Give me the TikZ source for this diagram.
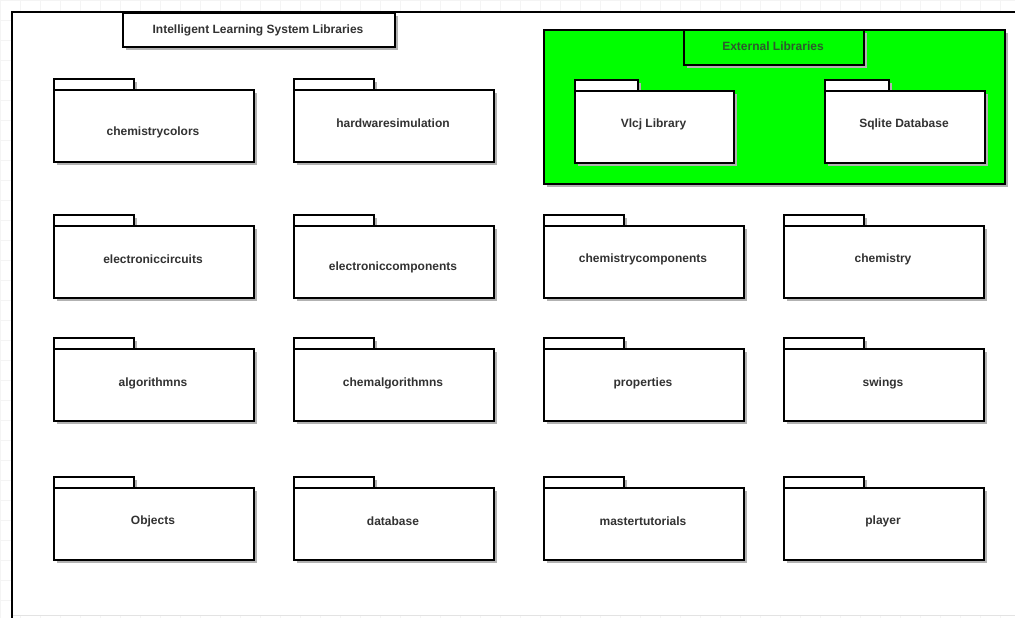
\documentclass[tikz,border=0pt]{standalone}
\usepackage{fontspec}
\setmainfont{Liberation Sans}
\usetikzlibrary{shadows}
\definecolor{extgreen}{RGB}{0,255,0}
\definecolor{txtgray}{RGB}{50,50,50}
\definecolor{exttxt}{RGB}{45,90,45}
\tikzset{
  shad/.style={drop shadow={shadow xshift=3.5pt, shadow yshift=-3.5pt, fill=black!30, opacity=1}},
  tabbox/.style={draw=black, line width=1.6pt, fill=white, shad, minimum height=11pt, inner sep=0pt, anchor=north west},
  bodybox/.style={draw=black, line width=1.6pt, fill=white, shad, minimum height=72pt, inner sep=0pt, anchor=north west},
  lbl/.style={font=\bfseries\fontsize{12}{14}\selectfont, text=txtgray, inner sep=1pt},
  titlebox/.style={draw=black, line width=1.6pt, fill=white, shad, inner sep=0pt, anchor=north west},
}
% #1 name, #2 x, #3 tab top, #4 text, #5 text y, #6 body width, #7 tab width
\newcommand\pkgbox[7]{%
  \node[tabbox, minimum width=#7pt] (#1-tab) at (#2,#3) {};
  \node[bodybox, minimum width=#6pt] (#1) at (#2,#3+11) {};
  \node[lbl] (#1-lbl) at (#2+#6/2,#5) {#4};
}
\begin{document}
\begin{tikzpicture}[x=1pt,y=-1pt]
\useasboundingbox (0,0) rectangle (1015,618);
% faint grid background
\draw[gray!9, line width=0.5pt] (0,0) grid[step=20pt] (1015,618);
% outer frame
\fill[white] (12,12) rectangle (1015,615);
\draw[gray!22, line width=0.6pt] (12,615) -- (1015,615);
\draw[black, line width=1.8pt] (12,618) -- (12,12) -- (1015,12);
% main title
\node[titlebox, minimum width=272pt, minimum height=34pt] (title) at (122,12) {};
\node[lbl] (title-lbl) at (258,30) {Intelligent Learning System Libraries};
% external libraries group
\node[draw=black, line width=1.6pt, fill=extgreen, shad, inner sep=0pt, anchor=north west, minimum width=461pt, minimum height=154pt] (ext) at (543,29) {};
\node[draw=black, line width=1.6pt, fill=extgreen, shad, inner sep=0pt, anchor=north west, minimum width=180pt, minimum height=35pt] (exttitle) at (683,29) {};
\node[lbl, text=exttxt] (exttitle-lbl) at (773,46) {External Libraries};
% row 1
\pkgbox{chemistrycolors}{53}{78}{chemistrycolors}{132}{200}{80}
\pkgbox{hardwaresimulation}{293}{78}{hardwaresimulation}{123}{200}{80}
\pkgbox{vlcj}{574}{79}{Vlcj Library}{124}{159}{63}
\pkgbox{sqlite}{824}{79}{Sqlite Database}{124}{160}{64}
% row 2
\pkgbox{electroniccircuits}{53}{214}{electroniccircuits}{259}{200}{80}
\pkgbox{electroniccomponents}{293}{214}{electroniccomponents}{267}{200}{80}
\pkgbox{chemistrycomponents}{543}{214}{chemistrycomponents}{259}{200}{80}
\pkgbox{chemistry}{783}{214}{chemistry}{259}{200}{80}
% row 3
\pkgbox{algorithmns}{53}{337}{algorithmns}{383}{200}{80}
\pkgbox{chemalgorithmns}{293}{337}{chemalgorithmns}{383}{200}{80}
\pkgbox{properties}{543}{337}{properties}{383}{200}{80}
\pkgbox{swings}{783}{337}{swings}{383}{200}{80}
% row 4
\pkgbox{objects}{53}{476}{Objects}{521}{200}{80}
\pkgbox{database}{293}{476}{database}{521}{200}{80}
\pkgbox{mastertutorials}{543}{476}{mastertutorials}{521}{200}{80}
\pkgbox{player}{783}{476}{player}{521}{200}{80}
\end{tikzpicture}
\end{document}
